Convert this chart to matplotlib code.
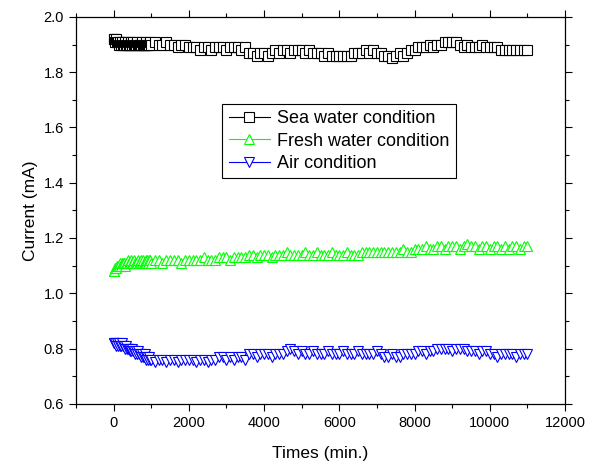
import numpy as np
import matplotlib
matplotlib.use("Agg")
import matplotlib.pyplot as plt

plt.rcParams['font.family'] = ['Liberation Sans', 'DejaVu Sans']

# time grid (min.): dense for the first 1000 min, then every 100 min
times = np.concatenate([np.arange(0, 1000, 25), np.arange(1000, 11001, 100)])

sea_water = [
    1.92, 1.92, 1.91, 1.92, 1.91, 1.91, 1.90, 1.91, 1.90, 1.91,
    1.90, 1.90, 1.91, 1.90, 1.90, 1.91, 1.90, 1.90, 1.90, 1.91,
    1.90, 1.91, 1.90, 1.90, 1.90, 1.91, 1.90, 1.90, 1.90, 1.90,
    1.91, 1.90, 1.90, 1.90, 1.91, 1.90, 1.90, 1.90, 1.90, 1.91,
    1.90, 1.91, 1.90, 1.90, 1.91, 1.90,
    1.90, 1.89, 1.90, 1.90, 1.89,
    1.89, 1.89, 1.88, 1.89, 1.89, 1.88, 1.89, 1.89,
    1.89, 1.88, 1.89, 1.89, 1.89, 1.88, 1.89,
    1.87, 1.87, 1.86, 1.87, 1.87, 1.86, 1.87, 1.88, 1.87,
    1.88, 1.88, 1.87, 1.88, 1.88, 1.88,
    1.87, 1.88, 1.87, 1.87, 1.87, 1.86, 1.87,
    1.86, 1.86, 1.86, 1.86, 1.86, 1.86, 1.87,
    1.87, 1.87, 1.88, 1.87, 1.88, 1.87, 1.87, 1.86,
    1.86, 1.85, 1.86, 1.87, 1.86, 1.87, 1.88,
    1.88, 1.89, 1.89, 1.89, 1.90, 1.89, 1.90,
    1.90, 1.91, 1.91, 1.91, 1.91, 1.90,
    1.89, 1.90, 1.89, 1.89, 1.89, 1.90, 1.89, 1.89, 1.89, 1.89, 1.88,
    1.88, 1.88, 1.88, 1.88, 1.88, 1.88, 1.88,
]

fresh_water = [
    1.08, 1.08, 1.09, 1.09, 1.10, 1.10, 1.10, 1.11, 1.10, 1.11,
    1.11, 1.11, 1.10, 1.11, 1.11, 1.12, 1.11, 1.11, 1.11, 1.12,
    1.11, 1.11, 1.12, 1.11, 1.11, 1.11, 1.12, 1.11, 1.11, 1.12,
    1.11, 1.12, 1.11, 1.11, 1.12, 1.11, 1.12, 1.11, 1.12, 1.12,
    1.11, 1.12, 1.12, 1.11, 1.12, 1.12,
    1.12, 1.12, 1.11, 1.12, 1.12,
    1.12, 1.12, 1.12, 1.13, 1.12, 1.12, 1.12, 1.13,
    1.13, 1.13, 1.12, 1.13, 1.13, 1.13, 1.13,
    1.14, 1.14, 1.13, 1.14, 1.14, 1.14, 1.13, 1.14, 1.14,
    1.14, 1.15, 1.14, 1.14, 1.14, 1.14,
    1.15, 1.14, 1.14, 1.15, 1.14, 1.14, 1.14,
    1.15, 1.14, 1.14, 1.14, 1.15, 1.14, 1.14,
    1.14, 1.15, 1.15, 1.15, 1.15, 1.15, 1.15, 1.15,
    1.15, 1.15, 1.15, 1.15, 1.16, 1.15, 1.15,
    1.16, 1.16, 1.16, 1.17, 1.16, 1.16, 1.17,
    1.17, 1.16, 1.17, 1.17, 1.17, 1.16,
    1.17, 1.18, 1.17, 1.17, 1.16, 1.17, 1.17, 1.16, 1.17, 1.17, 1.16,
    1.17, 1.16, 1.17, 1.17, 1.16, 1.17, 1.17,
]

air = [
    0.82, 0.82, 0.82, 0.81, 0.82, 0.81, 0.82, 0.81, 0.81, 0.82,
    0.81, 0.81, 0.80, 0.81, 0.80, 0.80, 0.80, 0.79, 0.80, 0.79,
    0.80, 0.79, 0.79, 0.78, 0.79, 0.78, 0.79, 0.78, 0.78, 0.77,
    0.78, 0.77, 0.77, 0.78, 0.77, 0.76, 0.77, 0.76, 0.77, 0.76,
    0.76, 0.75, 0.76, 0.76, 0.75, 0.76,
    0.76, 0.75, 0.76, 0.76, 0.76,
    0.76, 0.75, 0.76, 0.76, 0.75, 0.76, 0.76, 0.77,
    0.77, 0.76, 0.77, 0.76, 0.77, 0.77, 0.76,
    0.78, 0.78, 0.77, 0.78, 0.78, 0.78, 0.77, 0.78, 0.78,
    0.78, 0.79, 0.80, 0.79, 0.78, 0.79,
    0.78, 0.78, 0.79, 0.78, 0.78, 0.78, 0.79,
    0.78, 0.78, 0.78, 0.79, 0.78, 0.78, 0.78,
    0.79, 0.78, 0.78, 0.78, 0.78, 0.79, 0.78, 0.77,
    0.77, 0.78, 0.77, 0.77, 0.78, 0.78, 0.78,
    0.78, 0.79, 0.79, 0.78, 0.79, 0.79, 0.80,
    0.80, 0.80, 0.80, 0.79, 0.80, 0.80,
    0.80, 0.79, 0.79, 0.79, 0.78, 0.79, 0.79, 0.78, 0.78, 0.77, 0.78,
    0.78, 0.78, 0.78, 0.77, 0.78, 0.78, 0.78,
]

labels = ['Sea water condition', 'Fresh water condition', 'Air condition']
colors = ['black', '#00ff00', '#0000ff']
markers = ['s', '^', 'v']

fig = plt.figure(figsize=(5.93, 4.69), dpi=100)
ax = fig.add_axes([0.128, 0.139, 0.825, 0.825])

for y, lab, c, m in zip([sea_water, fresh_water, air], labels, colors, markers):
    ax.plot(times, y, color=c, lw=0.8, marker=m, ms=6.5, mfc='white',
            mec=c, mew=0.8, label=lab)

ax.set_xlim(-1000, 12000)
ax.set_ylim(0.6, 2.0)
ax.set_xticks(np.arange(0, 12001, 2000))
ax.set_xticks(np.arange(-1000, 12001, 1000), minor=True)
ax.set_yticks(np.arange(0.6, 2.01, 0.2))
ax.set_yticks(np.arange(0.6, 2.01, 0.1), minor=True)
ax.yaxis.set_major_formatter(matplotlib.ticker.FormatStrFormatter('%.1f'))

ax.tick_params(which='both', direction='out', top=True, right=True,
               labeltop=False, labelright=False, width=0.8, labelsize=10.5)
ax.tick_params(which='major', length=5)
ax.tick_params(which='minor', length=3)
for s in ax.spines.values():
    s.set_linewidth(0.9)

ax.set_xlabel('Times (min.)', fontsize=12.5, labelpad=12)
ax.set_ylabel('Current (mA)', fontsize=12.5, labelpad=4)

leg = ax.legend(loc='upper left', bbox_to_anchor=(0.299, 0.775), fontsize=13,
                fancybox=False, edgecolor='black', framealpha=1,
                handlelength=2.3, numpoints=1, borderpad=0.35,
                labelspacing=0.3, handletextpad=0.4, borderaxespad=0)
leg.get_frame().set_linewidth(0.8)

fig.savefig('out.png', dpi=100)
